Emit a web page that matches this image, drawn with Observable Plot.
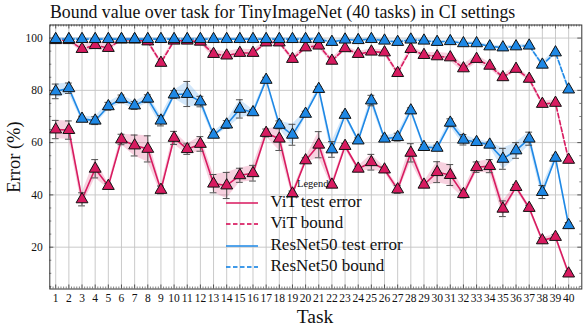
<!DOCTYPE html>
<html><head><meta charset="utf-8">
<script src="https://cdn.jsdelivr.net/npm/d3@7"></script>
<script src="https://cdn.jsdelivr.net/npm/@observablehq/plot@0.6"></script>
<style>
body{margin:0;background:#fff;}
#wrap{position:relative;width:586px;height:330px;font-family:"Liberation Serif","DejaVu Serif",serif;color:#111;}
.abs{position:absolute;white-space:nowrap;line-height:1;}
</style></head><body><div id="wrap"></div>
<script>
const tasks=[1,2,3,4,5,6,7,8,9,10,11,12,13,14,15,16,17,18,19,20,21,22,23,24,25,26,27,28,29,30,31,32,33,34,35,36,37,38,39,40];
const vitTest=[65.0,64.8,38.3,50.0,43.4,61.2,58.9,57.6,41.9,61.8,57.5,59.5,44.3,43.6,47.5,48.3,63.7,61.5,40.5,53.2,59.2,43.9,58.7,50.0,52.5,49.7,42.1,56.1,43.9,48.7,47.6,40.3,50.6,51.0,34.7,43.0,35.0,22.6,23.9,9.9];
const vitStd=[3.5,3.5,2.5,3.5,1,2,4,5,1.5,2.5,2,2.8,3.5,5,2.7,3,1.5,4.5,1,1,5,1,1,1,3,1,1.5,3.5,1,4,4,1.5,2,2.5,3,1,1,1,1,1];
const vitBound=[99.2,99.2,95.8,97.3,96.2,99.4,99.4,98.7,90.5,99.0,99.0,98.6,93.9,93.3,94.3,94.3,98.3,98.3,92.0,96.4,97.1,91.3,96.1,93.9,94.8,94.5,86.6,95.8,93.5,93.0,92.6,88.4,92.0,89.4,85.0,88.2,84.4,74.8,75.2,53.4];
const vitBoundStd=[0.5,0.5,1.5,1.5,1.5,0.5,0.5,0.8,1,0.5,0.5,0.8,1.5,1.5,1.5,1.2,0.8,0.8,1,1,1,1,1,1,1,1,1,1,1,1.5,1.5,1.5,1.5,1.2,1,1,1,1,1.2,1];
const resTest=[79.6,80.8,69.1,68.4,73.9,76.7,74.2,76.8,68.4,78.4,78.6,75.7,63.0,66.9,72.9,71.6,84.0,66.8,63.0,71.0,80.5,57.4,70.6,60.8,76.1,61.5,62.1,72.3,58.3,58.0,67.6,61.1,60.2,59.2,53.8,57.0,61.5,41.1,54.2,28.4];
const resStd=[2.8,2,1,1.5,1.5,1.5,1.5,1.5,2,1.5,4.8,2,1,1.5,3.5,1,1,1.5,4,1,1,3,1,1,2,1,1.5,1,1,1,1.5,2,1,1,4,3,2.5,2.5,1,1];
const resBound=[99.6,99.6,99.6,99.6,99.6,99.6,99.6,99.6,99.6,99.6,99.6,99.6,99.6,99.6,99.6,99.6,99.6,99.6,99.6,99.6,99.6,98.5,99.4,99.2,99.6,99.0,98.5,99.4,99.0,98.5,98.8,98.0,98.0,96.8,96.4,96.8,97.1,89.8,94.5,80.3];
const resBoundStd=[0.6,0.6,0.6,0.6,0.6,0.6,0.6,0.6,0.6,0.6,0.6,0.6,0.6,0.6,0.6,0.6,0.6,0.6,0.6,0.6,0.6,0.6,0.6,0.6,0.6,0.6,0.6,0.6,0.6,0.6,0.6,0.6,0.6,0.6,0.6,0.6,0.6,1,1,1];
const yMajor=[20,40,60,80,100];
const seriesNames=["ViT test error","ViT bound","ResNet50 test error","ResNet50 bound"];
const RED="#d81b60", BLUE="#1e88e5";

const W=586,H=330,mt=24.5,mb=41.5,ml=49.3,mr=4.7;
const frameH=H-mt-mb, frameW=W-ml-mr;
const yMinor=d3.range(5,105,5).filter(v=>v%20!==0);
const xMinor=d3.range(0.6,41,0.2).map(v=>+v.toFixed(1)).filter(v=>Math.abs(v-Math.round(v))>0.01);

function mk(vals,std){return tasks.map((t,i)=>({t,v:vals[i],s:std[i]}));}
const series=[
 {data:mk(vitTest,vitStd),color:RED,dash:null,err:true},
 {data:mk(vitBound,vitBoundStd),color:RED,dash:"4.5,2.5",err:false},
 {data:mk(resTest,resStd),color:BLUE,dash:null,err:true},
 {data:mk(resBound,resBoundStd),color:BLUE,dash:"4.5,2.5",err:false}
];
const marks=[
 Plot.ruleX(tasks,{x:d=>d,stroke:"#c4c4c4",strokeWidth:0.9}),
 Plot.ruleY(yMajor,{y:d=>d,stroke:"#c4c4c4",strokeWidth:0.9})
];
for(const s of series){
 marks.push(Plot.areaY(s.data,{x:"t",y1:d=>d.v-d.s,y2:d=>d.v+d.s,fill:s.color,fillOpacity:0.2}));
 marks.push(Plot.line(s.data,{x:"t",y:"v",stroke:s.color,strokeWidth:1.6,strokeDasharray:s.dash}));
 if(s.err){
  marks.push(Plot.ruleX(s.data,{x:"t",y1:d=>d.v-d.s,y2:d=>d.v+d.s,stroke:"#505050",strokeWidth:1}));
  marks.push(Plot.ruleY(s.data,{y:d=>d.v+d.s,x1:d=>d.t-0.26,x2:d=>d.t+0.26,stroke:"#505050",strokeWidth:1}));
  marks.push(Plot.ruleY(s.data,{y:d=>d.v-d.s,x1:d=>d.t-0.26,x2:d=>d.t+0.26,stroke:"#505050",strokeWidth:1}));
 }
 marks.push(Plot.dot(s.data,{x:"t",y:"v",symbol:"triangle",r:4.4,fill:s.color,stroke:"#111",strokeWidth:1}));
}
// inward ticks on all sides
const tk="#333";
marks.push(
 Plot.ruleX(tasks,{x:d=>d,insetTop:frameH-4,stroke:tk,strokeWidth:0.8}),
 Plot.ruleX(xMinor,{x:d=>d,insetTop:frameH-2,stroke:tk,strokeWidth:0.6}),
 Plot.ruleX(tasks,{x:d=>d,insetBottom:frameH-4,stroke:tk,strokeWidth:0.8}),
 Plot.ruleX(xMinor,{x:d=>d,insetBottom:frameH-2,stroke:tk,strokeWidth:0.6}),
 Plot.ruleY(yMajor,{y:d=>d,insetRight:frameW-4,stroke:tk,strokeWidth:0.8}),
 Plot.ruleY(yMinor,{y:d=>d,insetRight:frameW-2,stroke:tk,strokeWidth:0.6}),
 Plot.ruleY(yMajor,{y:d=>d,insetLeft:frameW-4,stroke:tk,strokeWidth:0.8}),
 Plot.ruleY(yMinor,{y:d=>d,insetLeft:frameW-2,stroke:tk,strokeWidth:0.6}),
 Plot.frame({stroke:"#333",strokeWidth:1}),
 Plot.axisX(tasks,{tickSize:0,tickPadding:5,label:null,fontSize:11.5,tickFormat:d=>String(d)}),
 Plot.axisY(yMajor,{tickSize:0,tickPadding:7,label:null,fontSize:11.5})
);
const chart=Plot.plot({
 width:W,height:H,marginTop:mt,marginBottom:mb,marginLeft:ml,marginRight:mr,
 x:{domain:[0.55,41]},y:{domain:[4,105]},
 style:{fontFamily:'"Liberation Serif","DejaVu Serif",serif',fontSize:"11.5px",color:"#111",background:"#fff"},
 marks
});
const wrap=document.getElementById("wrap");
wrap.appendChild(chart);
function addText(txt,css){const d=document.createElement("div");d.className="abs";d.textContent=txt;Object.assign(d.style,css);wrap.appendChild(d);return d;}
addText("Bound value over task for TinyImageNet (40 tasks) in CI settings",{left:"50px",top:"3.5px",fontSize:"17.8px"});
addText("Task",{left:"315px",top:"307px",fontSize:"19.5px",transform:"translateX(-50%)"});
addText("Error (%)",{left:"14px",top:"157px",fontSize:"18.5px",transform:"translate(-50%,-50%) rotate(-90deg)"});
// legend
addText("Legend",{left:"297px",top:"179px",fontSize:"10.5px"});
const rowsY=[202.7,224,246,267.3];
seriesNames.forEach((n,i)=>{
 const s=series[i];
 const sv=document.createElementNS("http://www.w3.org/2000/svg","svg");
 sv.setAttribute("width","34");sv.setAttribute("height","6");
 sv.style.position="absolute";sv.style.left="225px";sv.style.top=(rowsY[i]-3)+"px";
 const ln=document.createElementNS("http://www.w3.org/2000/svg","line");
 ln.setAttribute("x1","1");ln.setAttribute("x2","33");ln.setAttribute("y1","3");ln.setAttribute("y2","3");
 ln.setAttribute("stroke",s.color);ln.setAttribute("stroke-width","1.8");ln.setAttribute("stroke-opacity","0.85");
 if(s.dash)ln.setAttribute("stroke-dasharray",s.dash);
 sv.appendChild(ln);wrap.appendChild(sv);
 addText(n,{left:"270.5px",top:(rowsY[i]-10)+"px",fontSize:"17px"});
});
</script></body></html>
